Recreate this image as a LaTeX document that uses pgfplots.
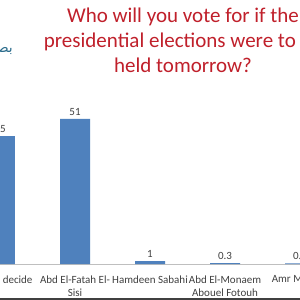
\documentclass[border=0pt]{standalone}
\usepackage{pgfplots}
\pgfplotsset{compat=1.18}
\usepackage{fontspec}
\setmainfont{Carlito}
\newfontfamily\arabicfont[Script=Arabic]{DejaVu Sans}
\TeXXeTstate=1
\definecolor{barblue}{HTML}{4F81BD}
\definecolor{titlered}{HTML}{C0202B}
\definecolor{labelgray}{HTML}{404040}
\definecolor{logoblue}{HTML}{2B6C8C}
\begin{document}
\begin{tikzpicture}[x=1pt,y=1pt]
\useasboundingbox (0,0) rectangle (300,300);
\clip (0,0) rectangle (300,300);
\fill[white] (0,0) rectangle (300,300);
\begin{axis}[
  at={(-37.5pt,36pt)}, anchor=south west,
  width=375pt, height=170.6pt, scale only axis,
  xmin=-0.5, xmax=4.5, ymin=0, ymax=60,
  clip=false,
  axis x line*=bottom, axis y line=none,
  x axis line style={draw=black!25, -},
  xtick={0,1,2,3,4},
  xticklabels={Did not decide, {Abd El-Fatah El-\\Sisi}, Hamdeen Sabahi, {Abd El-Monaem\\Abouel Fotouh}, Amr Moussa},
  xticklabel style={align=center, text=labelgray, font=\fontsize{11}{13}\selectfont, yshift=-8pt},
  major tick length=0pt,
  ybar, bar width=30pt,
  nodes near coords={\pgfmathprintnumber[assume math mode=true]{\pgfplotspointmeta}},
  every node near coord/.append style={text=labelgray, font=\fontsize{11}{13}\selectfont},
]
\addplot[fill=barblue, draw=none] coordinates {(0,45) (1,51) (2,1) (3,0.3) (4,0.2)};
\end{axis}
\node[text=titlered, align=center, font=\fontsize{21}{25}\selectfont, anchor=north, inner sep=0pt] at (183,292) {Who will you vote for if the\\presidential elections were to be\\held tomorrow?};
\node[anchor=east, text=logoblue, font=\fontsize{14}{16}\selectfont, inner sep=0pt] at (13,249) {\arabicfont\beginR بصيرة\endR};
\draw[black!75, line width=1.5pt] (0,1) -- (300,1);
\end{tikzpicture}
\end{document}
